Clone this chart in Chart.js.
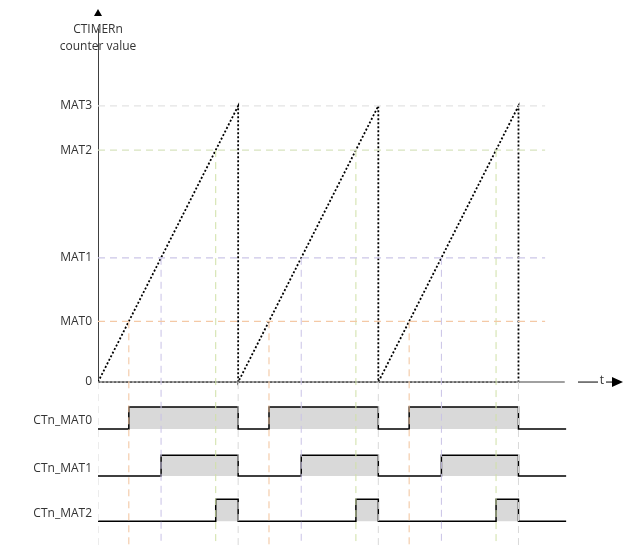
<!DOCTYPE html>
<html>
<head>
<meta charset="utf-8">
<script src="https://cdn.jsdelivr.net/npm/chart.js@4.4.0/dist/chart.umd.min.js"></script>
<style>
  body { margin: 0; background: #fff; }
</style>
</head>
<body>
<canvas id="grafico" width="633" height="553"></canvas>
<script>
// valores dos comparadores (contador vai de 0 a MAT3 em cada periodo)
const levelNames = ['MAT0', 'MAT1', 'MAT2', 'MAT3'];
const levelValues = [22, 45, 84, 100];
const levelColors = ['#f4c9a6', '#cbc6e8', '#d8e4bf', '#e3e3e3'];
const crossColors = ['#f2c29b', '#c9c2e6', '#cfe0a6'];
const periodStarts = [0, 100, 200];
const period = 100;
const signalNames = ['CTn_MAT0', 'CTn_MAT1', 'CTn_MAT2'];
const signalLow = [-17, -34, -50.4];
const signalHigh = [-9, -26.5, -42.4];
const signalEnd = 334;
const yMin = -59, yMax = 134;

const datasets = [];

// linhas horizontais dos niveis
levelValues.forEach((v, i) => {
  datasets.push({
    data: [{x: 0, y: v}, {x: 319, y: v}],
    borderColor: levelColors[i], borderWidth: 1.2, borderDash: [7, 5]
  });
});

// linhas verticais: cruzamento de cada nivel e inicio de periodo
periodStarts.concat([300]).forEach(p => {
  datasets.push({
    data: [{x: p, y: 0}, {x: p, y: yMin}],
    borderColor: '#d9d9d9', borderWidth: 1, borderDash: [7, 5]
  });
});
periodStarts.forEach(p => {
  for (let i = 0; i < 3; i++) {
    const t = p + levelValues[i] * period / levelValues[3];
    datasets.push({
      data: [{x: t, y: levelValues[i]}, {x: t, y: yMin}],
      borderColor: crossColors[i], borderWidth: 1, borderDash: [7, 5]
    });
  }
});

// eixo do tempo (cinza)
datasets.push({
  data: [{x: 0, y: 0}, {x: 333, y: 0}],
  borderColor: '#808080', borderWidth: 1.5
});

// dente de serra
const saw = [{x: 0, y: 0}];
periodStarts.forEach(p => {
  saw.push({x: p + period, y: levelValues[3]});
  saw.push({x: p + period, y: 0});
});
datasets.push({
  data: saw.concat([{x: 0, y: 0}]),
  borderColor: '#000', borderWidth: 1.8, borderDash: [2, 2]
});

// sinais de saida
for (let i = 0; i < 3; i++) {
  const pts = [{x: -3.5, y: signalLow[i]}];
  periodStarts.forEach(p => {
    const t = p + levelValues[i] * period / levelValues[3];
    pts.push({x: t, y: signalLow[i]}, {x: t, y: signalHigh[i]},
             {x: p + period, y: signalHigh[i]}, {x: p + period, y: signalLow[i]});
  });
  pts.push({x: signalEnd, y: signalLow[i]});
  datasets.push({
    data: pts, borderColor: '#000', borderWidth: 1.5,
    backgroundColor: '#d9d9d9', fill: {value: signalLow[i]}
  });
}

// eixo vertical
datasets.push({
  data: [{x: 0, y: 0}, {x: 0, y: 128}],
  borderColor: '#000', borderWidth: 1.5
});

datasets.forEach(d => { d.pointRadius = 0; d.tension = 0; if (d.fill === undefined) d.fill = false; });

const FONT = '12px "Open Sans", "Noto Sans", sans-serif';

const textos = {
  id: 'textos',
  afterDraw(chart) {
    const ctx = chart.ctx;
    const xs = chart.scales.x, ys = chart.scales.y;
    const x0 = xs.getPixelForValue(0);
    ctx.save();
    ctx.fillStyle = '#333';
    ctx.font = FONT;
    ctx.textAlign = 'right';
    ctx.textBaseline = 'middle';
    ctx.fillText('0', x0 - 6, ys.getPixelForValue(0));
    levelValues.forEach((v, i) => ctx.fillText(levelNames[i], x0 - 6, ys.getPixelForValue(v)));
    signalNames.forEach((n, i) => ctx.fillText(n, x0 - 6, ys.getPixelForValue((signalLow[i] + signalHigh[i]) / 2) + 3));
    // titulo do eixo
    ctx.textAlign = 'center';
    ctx.fillText('CTIMERn', x0, 30);
    ctx.fillText('counter value', x0, 47);
    // seta do eixo y
    ctx.fillStyle = '#000';
    ctx.beginPath();
    ctx.moveTo(x0, 9); ctx.lineTo(x0 - 4, 16); ctx.lineTo(x0 + 4, 16); ctx.closePath(); ctx.fill();
    // seta do tempo
    const yt = ys.getPixelForValue(0);
    ctx.strokeStyle = '#000'; ctx.lineWidth = 1;
    ctx.beginPath(); ctx.moveTo(578, yt); ctx.lineTo(598, yt); ctx.moveTo(606, yt); ctx.lineTo(612, yt); ctx.stroke();
    ctx.beginPath(); ctx.moveTo(612, yt - 5); ctx.lineTo(623, yt); ctx.lineTo(612, yt + 5); ctx.closePath(); ctx.fill();
    ctx.fillStyle = '#333';
    ctx.fillText('t', 602, yt - 1);
    ctx.restore();
  }
};

new Chart(document.getElementById('grafico'), {
  type: 'line',
  data: { datasets: datasets },
  options: {
    responsive: false,
    animation: false,
    layout: { padding: { left: 98, right: 8, top: 12, bottom: 8 } },
    scales: {
      x: { type: 'linear', min: 0, max: 376, display: false },
      y: { type: 'linear', min: yMin, max: yMax, display: false }
    },
    plugins: { legend: { display: false }, tooltip: { enabled: false } }
  },
  plugins: [textos]
});
</script>
</body>
</html>
